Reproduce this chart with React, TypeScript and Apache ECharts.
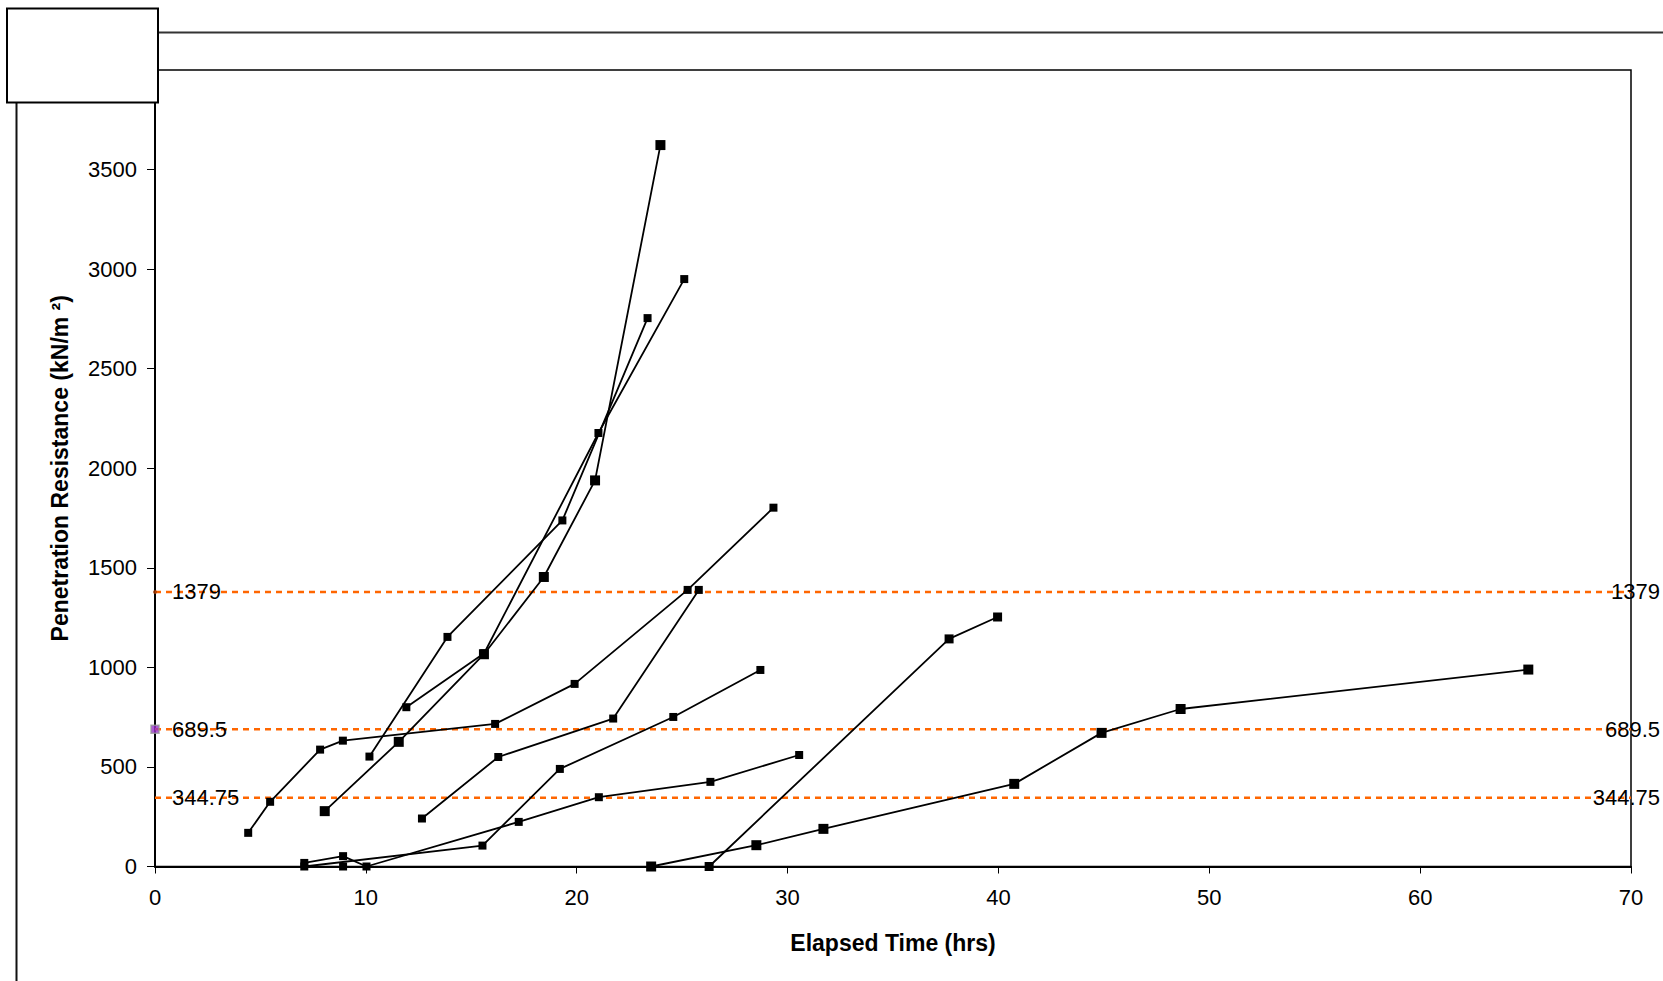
import React, { useEffect, useRef } from "react";
import * as echarts from "echarts";

// ---- data (Elapsed Time hrs, Penetration Resistance kN/m²) ----
const xTicks = [0, 10, 20, 30, 40, 50, 60, 70];
const yTicks = [0, 500, 1000, 1500, 2000, 2500, 3000, 3500];
const thresholds = [1379, 689.5, 344.75];

const seriesA = [[4.42, 169], [5.46, 325], [7.83, 587], [8.91, 632], [16.13, 716], [19.9, 917], [25.26, 1389], [29.33, 1802]];
const seriesB = [[10.17, 552], [13.87, 1153], [19.32, 1738], [23.36, 2754]];
const seriesC = [[11.92, 800], [15.61, 1071], [21.03, 2177], [25.1, 2950]];
const seriesD = [[8.05, 278], [11.56, 626], [15.6, 1066], [18.44, 1454], [20.87, 1939], [23.97, 3623]];
const seriesE = [[12.66, 241], [16.28, 550], [21.73, 743], [25.79, 1389]];
const seriesF = [[7.08, 0], [15.53, 105], [19.2, 490], [24.58, 751], [28.71, 987]];
const seriesG = [[7.08, 18], [8.92, 52], [10.03, 0], [17.25, 224], [21.05, 348], [26.34, 425], [30.55, 560]];
const seriesH = [[8.92, 0]];
const seriesL = [[23.53, 0], [28.52, 107], [31.7, 189], [40.75, 415], [44.89, 671], [48.64, 791], [65.13, 989]];
const seriesM = [[26.28, 0], [37.66, 1143], [39.96, 1253]];

const FONT = "'Liberation Sans', Arial, sans-serif";

export default function App() {
  const ref = useRef<HTMLDivElement>(null);

  useEffect(() => {
    if (!ref.current) return;
    const chart = echarts.init(ref.current, undefined, { renderer: "svg" });

    const dataSeries = [
      { d: seriesA, s: 8 },
      { d: seriesB, s: 8 },
      { d: seriesC, s: 8 },
      { d: seriesD, s: 10 },
      { d: seriesE, s: 8 },
      { d: seriesF, s: 8 },
      { d: seriesG, s: 8 },
      { d: seriesH, s: 8 },
      { d: seriesL, s: 10 },
      { d: seriesM, s: 9 },
    ].map((o, i) => ({
      type: "line",
      name: "s" + i,
      data: o.d,
      symbol: "rect",
      symbolSize: o.s,
      showSymbol: true,
      itemStyle: { color: "#000" },
      lineStyle: { color: "#000", width: 1.8 },
      z: 5,
    }));

    const refSeries = thresholds.map((v) => ({
      type: "line",
      data: [[xTicks[0], v], [xTicks[xTicks.length - 1], v]],
      symbol: "none",
      lineStyle: { color: "#FF6600", width: 2.5, type: [6, 5] },
      z: 2,
    }));

    const option: any = {
      animation: false,
      backgroundColor: "#fff",
      grid: { left: 155, right: 32, top: 70, bottom: 114.5, containLabel: false, show: true, borderColor: "#000", borderWidth: 1.5, backgroundColor: "transparent" },
      xAxis: {
        type: "value",
        min: 0,
        max: 70,
        interval: 10,
        splitLine: { show: false },
        axisLine: { show: true, onZero: false, lineStyle: { color: "#000", width: 2 } },
        axisTick: { show: true, length: 7, lineStyle: { color: "#000" } },
        axisLabel: { color: "#000", fontSize: 22, fontFamily: FONT, margin: 20 },
      },
      yAxis: {
        type: "value",
        min: 0,
        max: 4000,
        interval: 500,
        splitLine: { show: false },
        axisLine: { show: true, onZero: false, lineStyle: { color: "#000", width: 2 } },
        axisTick: { show: true, length: 8, lineStyle: { color: "#000" } },
        axisLabel: {
          color: "#000",
          fontSize: 22,
          fontFamily: FONT,
          margin: 18,
          formatter: (v: number) => (yTicks.indexOf(v) >= 0 ? String(v) : ""),
        },
      },
      series: [
        ...refSeries,
        ...dataSeries,
        {
          type: "scatter",
          data: [[0, thresholds[1]]],
          symbol: "rect",
          symbolSize: 8,
          itemStyle: { color: "#9933CC", borderColor: "#999", borderWidth: 1.5 },
          z: 6,
        },
        {
          type: "scatter",
          data: [[0, thresholds[0]]],
          symbol: "circle",
          symbolSize: 4,
          itemStyle: { color: "#993300" },
          z: 6,
        },
      ],
    };
    chart.setOption(option);

    const px = (x: number, y: number) => chart.convertToPixel({ gridIndex: 0 }, [x, y]) as number[];
    const x0 = px(0, 0)[0];
    const x1 = px(70, 0)[0];
    const yb = px(0, 0)[1];
    const yt = px(0, 4000)[1];

    const graphics: any[] = [];
    thresholds.forEach((v) => {
      const y = px(0, v)[1];
      graphics.push({
        type: "text",
        x: x0 + 17,
        y,
        z: 20,
        style: { text: String(v), fill: "#000", font: `22px ${FONT}`, align: "left", verticalAlign: "middle" },
      });
      graphics.push({
        type: "text",
        x: x1 + 29,
        y,
        z: 20,
        style: { text: String(v), fill: "#000", font: `22px ${FONT}`, align: "right", verticalAlign: "middle" },
      });
    });
    graphics.push({
      type: "text",
      x: 60,
      y: (yb + yt) / 2,
      rotation: Math.PI / 2,
      z: 20,
      style: { text: "Penetration Resistance (kN/m ²)", fill: "#000", font: `bold 23px ${FONT}`, align: "center", verticalAlign: "middle" },
    });
    graphics.push({
      type: "text",
      x: (x0 + x1) / 2,
      y: 943,
      z: 20,
      style: { text: "Elapsed Time (hrs)", fill: "#000", font: `bold 23px ${FONT}`, align: "center", verticalAlign: "middle" },
    });
    graphics.push({ type: "line", z: 30, shape: { x1: 158, y1: 32.5, x2: 1663, y2: 32.5 }, style: { stroke: "#333", lineWidth: 2 } });
    graphics.push({ type: "line", z: 30, shape: { x1: 16.5, y1: 103, x2: 16.5, y2: 981 }, style: { stroke: "#111", lineWidth: 2 } });
    graphics.push({ type: "rect", z: 40, shape: { x: 7, y: 8.5, width: 151, height: 94 }, style: { fill: "#fff", stroke: "#000", lineWidth: 2 } });

    chart.setOption({ graphic: graphics });

    return () => chart.dispose();
  }, []);

  return <div ref={ref} style={{ position: "fixed", left: 0, top: 0, width: 1663, height: 981, background: "#fff" }} />;
}
